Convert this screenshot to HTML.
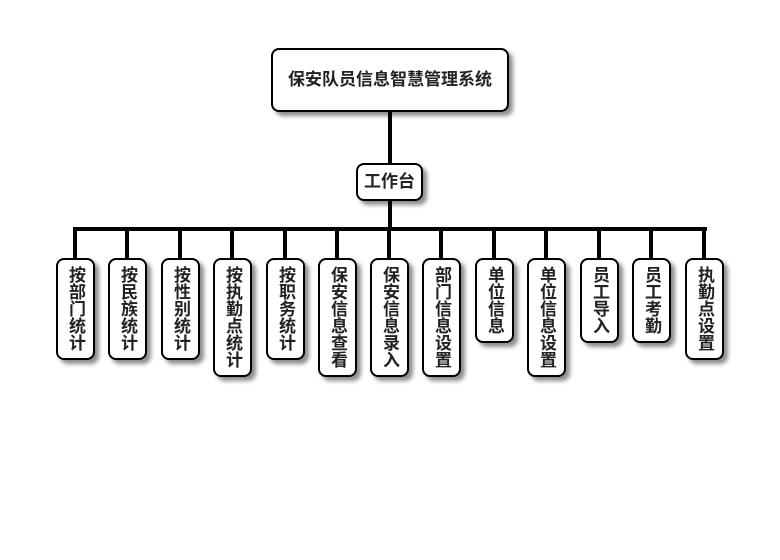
<!DOCTYPE html>
<html><head><meta charset="utf-8"><style>
body{margin:0;width:780px;height:560px;background:#fff;position:relative;font-family:"Liberation Sans","Noto Sans CJK SC",sans-serif;overflow:hidden}
.b{position:absolute;background:#fff;border:2px solid #000;border-radius:8px;box-shadow:4px 4px 4px rgba(0,0,0,0.45);box-sizing:border-box;font-weight:bold;color:#222;text-align:center}
.v{width:39px;top:258px;font-size:17px;line-height:17px;padding-top:6px;writing-mode:vertical-rl;display:flex;align-items:center;justify-content:flex-start}
.l{position:absolute;background:#000}
</style></head><body>
<div class="l" style="left:388px;top:110px;width:4px;height:55px"></div>
<div class="l" style="left:388px;top:200px;width:4px;height:30px"></div>
<div class="l" style="left:73px;top:227px;width:634px;height:4px"></div>
<div class="b" style="left:271px;top:48px;width:238px;height:64px;font-size:17px;line-height:60px">保安队员信息智慧管理系统</div>
<div class="b" style="left:356px;top:163px;width:67px;height:38px;font-size:17px;line-height:34px">工作台</div>
<div id="c"></div>
<script>
var items=[["按部门统计",75],["按民族统计",127],["按性别统计",180],["按执勤点统计",232],["按职务统计",285],["保安信息查看",337],["保安信息录入",389],["部门信息设置",441],["单位信息",494],["单位信息设置",546],["员工导入",599],["员工考勤",651],["执勤点设置",704]];
var h='';
items.forEach(function(it){var n=it[0].length;var x=it[1];
h+='<div class="l" style="left:'+(x-2)+'px;top:229px;width:4px;height:30px"></div>';
h+='<div class="b v" style="left:'+(x-19)+'px;height:'+(n*17+17)+'px">'+it[0]+'</div>';});
document.getElementById('c').innerHTML=h;
</script>
</body></html>
